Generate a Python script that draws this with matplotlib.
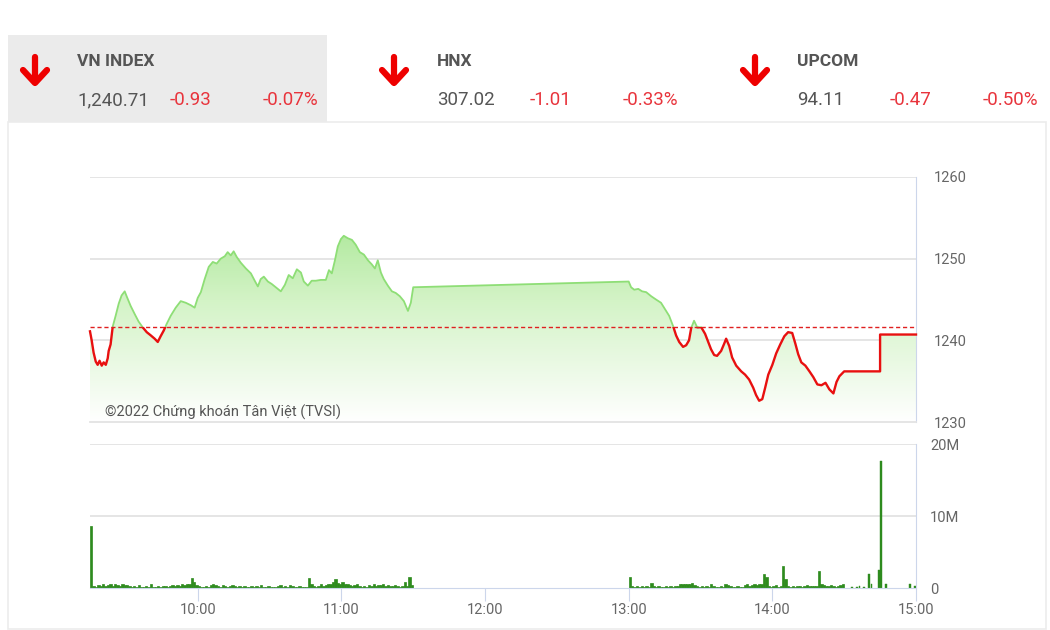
import numpy as np
import matplotlib.pyplot as plt
from matplotlib.patches import Rectangle, Polygon
from matplotlib.lines import Line2D
from matplotlib.colors import LinearSegmentedColormap

plt.rcParams['font.family'] = ['Roboto', 'DejaVu Sans']

# header values
idx_names = ['VN INDEX', 'HNX', 'UPCOM']
idx_values = ['1,240.71', '307.02', '94.11']
idx_change = ['-0.93', '-1.01', '-0.47']
idx_pct = ['-0.07%', '-0.33%', '-0.50%']

ref_price = 1241.64

# VN-Index intraday (minutes after 9:00)
price_t = [15, 15.7, 16.5, 17.4, 18.2, 19.0, 19.9, 20.7, 21.6, 22.4, 22.8, 23.6, 24.5, 25.7, 27.0,
           28.2, 29.5, 30.3, 32.0, 33.7, 35.3, 37.0, 38.7, 40.4, 42.0, 43.3, 44.5, 45.8, 47.0, 48.7,
           50.8, 52.9, 55.0, 57.1, 58.7, 60.0, 61.3, 62.9, 64.6, 66.3, 67.9, 69.6, 71.3, 72.5, 73.8,
           75.0, 76.3, 78.0, 80.1, 82.2, 83.8, 85.1, 86.3, 87.6, 89.3, 90.9, 92.6, 94.7, 96.4, 98.0,
           99.7, 101.4, 103.1, 104.3, 106.0, 107.6, 109.3, 111.4, 113.5, 114.8, 116.0, 117.3, 118.5,
           119.8, 121.0, 122.7, 124.4, 126.0, 127.7, 129.4, 131.1, 132.7, 134.0, 135.2, 136.5, 137.7,
           139.4, 141.1, 142.7, 144.4, 146.1, 147.8, 149.0, 150.0,
           240, 241, 242.3, 244, 245.6, 247.3, 249.4, 251.4, 253.5, 255.2, 256.9, 258.6, 259.8, 261.1,
           262.7, 264, 265.2, 266.1, 267.3, 268.6, 270.3, 271.9, 273.2, 274.4, 275.7, 276.9, 278.6,
           279.9, 280.7, 282.0, 283.2, 284.9, 287.0, 288.6, 290.3, 292.0, 293.2, 294.5, 295.8, 297.0,
           298.3, 300.0, 301.6, 303.3, 305.0, 306.6, 308.3, 309.6, 310.8, 312.1, 313.8, 315.5, 317.1,
           318.8, 320.5, 322.2, 323.8, 325.5, 326.8, 328.0, 330, 345, 345, 360]
price_v = [1241.1, 1240.0, 1238.5, 1237.4, 1237.0, 1237.5, 1236.9, 1237.3, 1237.0, 1237.8, 1238.7,
           1239.5, 1241.7, 1243.0, 1244.5, 1245.5, 1246.0, 1245.4, 1244.2, 1243.2, 1242.3, 1241.6,
           1241.0, 1240.6, 1240.2, 1239.8, 1240.5, 1241.2, 1242.0, 1243.0, 1244.0, 1244.8, 1244.6,
           1244.3, 1244.0, 1245.2, 1245.9, 1247.5, 1249.0, 1249.6, 1249.4, 1250.0, 1250.3, 1250.8,
           1250.4, 1250.9, 1250.2, 1249.5, 1248.8, 1248.2, 1247.3, 1246.6, 1247.5, 1247.8, 1247.2,
           1246.9, 1246.5, 1246.0, 1246.8, 1248.0, 1247.6, 1248.7, 1248.3, 1247.2, 1246.7, 1247.3,
           1247.3, 1247.4, 1247.4, 1248.6, 1248.2, 1249.8, 1251.5, 1252.4, 1252.8, 1252.5, 1252.3,
           1251.7, 1250.8, 1250.5, 1249.8, 1249.3, 1248.8, 1249.8, 1248.3, 1247.5, 1246.7, 1246.0,
           1245.8, 1245.4, 1244.8, 1243.6, 1244.6, 1246.5,
           1247.2, 1246.5, 1246.2, 1246.3, 1246.0, 1245.9, 1245.4, 1245.0, 1244.6, 1243.8, 1243.0,
           1241.7, 1240.6, 1239.8, 1239.2, 1239.4, 1240.0, 1241.5, 1242.4, 1241.6, 1241.6, 1240.8,
           1239.8, 1238.9, 1238.2, 1238.1, 1238.7, 1239.6, 1240.2, 1239.3, 1237.9, 1236.9, 1236.2,
           1235.8, 1235.2, 1234.2, 1233.3, 1232.6, 1232.8, 1234.2, 1235.8, 1237.0, 1238.4, 1239.5,
           1240.5, 1241.0, 1240.9, 1239.6, 1238.3, 1237.3, 1236.9, 1236.2, 1235.5, 1234.6, 1234.5,
           1234.8, 1234.0, 1233.5, 1234.9, 1235.6, 1236.2, 1236.2, 1240.71, 1240.71]

# volume per minute (millions), morning from 9:15, afternoon from 13:00
vol_am_start = 15
vol_am = [8.6, 0.3, 0.2, 0.4, 0.3, 0.5, 0.3, 0.4, 0.6, 0.3, 0.5, 0.4, 0.3, 0.5, 0.4,
          0.4, 0.3, 0.2, 0.3, 0.2, 0.4, 0.2, 0.2, 0.3, 0.2, 0.5, 0.2, 0.2, 0.3, 0.2,
          0.3, 0.3, 0.2, 0.3, 0.4, 0.3, 0.4, 0.3, 0.5, 0.4, 0.6, 0.5, 1.4, 0.8, 0.4,
          0.3, 0.2, 0.2, 0.3, 0.2, 0.4, 0.6, 0.4, 0.3, 0.2, 0.4, 0.3, 0.2, 0.3, 0.4,
          0.3, 0.2, 0.3, 0.2, 0.3, 0.2, 0.2, 0.3, 0.2, 0.3, 0.2, 0.4, 0.2, 0.2, 0.3,
          0.2, 0.2, 0.2, 0.3, 0.4, 0.2, 0.3, 0.2, 0.4, 0.3, 0.2, 0.2, 0.3, 0.2, 0.2,
          0.2, 1.4, 0.5, 0.3, 0.2, 0.3, 0.5, 0.3, 0.4, 0.6, 0.5, 0.8, 1.2, 0.7, 0.6,
          0.8, 0.6, 0.5, 0.4, 0.3, 0.4, 0.5, 0.3, 0.2, 0.3, 0.2, 0.4, 0.3, 0.5, 0.3,
          0.4, 0.4, 0.5, 0.3, 0.4, 0.3, 0.3, 0.4, 0.3, 0.2, 0.3, 0.9, 0.3, 1.5, 0.4]
vol_pm_start = 240
vol_pm = [1.5, 0.3, 0.2, 0.3, 0.2, 0.3, 0.2, 0.3, 0.2, 0.7, 0.3, 0.2, 0.3, 0.2, 0.2,
          0.3, 0.2, 0.3, 0.2, 0.3, 0.3, 0.5, 0.6, 0.5, 0.6, 0.5, 0.7, 0.4, 0.3, 0.2,
          0.3, 0.2, 0.3, 0.2, 0.5, 0.3, 0.2, 0.2, 0.3, 0.2, 0.5, 0.4, 0.3, 0.2, 0.2,
          0.3, 0.2, 0.2, 0.4, 0.5, 0.3, 0.4, 0.5, 0.4, 0.5, 0.6, 2.0, 1.5, 0.3, 0.2,
          0.3, 0.4, 0.2, 0.3, 3.0, 1.2, 0.3, 0.2, 0.3, 0.2, 0.3, 0.3, 0.2, 0.3, 0.4,
          0.3, 0.3, 0.3, 0.3, 2.3, 0.5, 0.4, 0.3, 0.3, 0.4, 0.3, 0.2, 0.3, 0.4, 0.5]
vol_late_t = [333, 335, 336, 338, 340, 341, 344, 345, 347, 357, 359]
vol_late = [0.2, 0.2, 0.3, 0.2, 2.0, 0.6, 2.5, 17.6, 0.6, 0.6, 0.3]

tick_pos = [60, 120, 180, 240, 300, 360]
tick_labels = ['10:00', '11:00', '12:00', '13:00', '14:00', '15:00']

W, H = 1050, 630
fig = plt.figure(figsize=(10.5, 6.3), dpi=100)


def fx(x):
    return x / W


def fy(y):
    return 1 - y / H


# header
fig.add_artist(Rectangle((fx(8), fy(122)), fx(319), 87 / H, transform=fig.transFigure,
                         facecolor='#ebebeb', edgecolor='none', zorder=0))
fig.add_artist(Rectangle((fx(8), fy(629)), fx(1038), 507 / H, transform=fig.transFigure,
                         facecolor='none', edgecolor='#ececec', lw=1.2, zorder=0))

arrow_x = [35, 394, 755]
text_x = [77, 437, 797]
for i in range(3):
    ax0 = arrow_x[i]
    fig.add_artist(Line2D([fx(ax0), fx(ax0)], [fy(57), fy(82)], transform=fig.transFigure,
                          color='#ee0000', lw=4.5, solid_capstyle='round'))
    fig.add_artist(Line2D([fx(ax0 - 12), fx(ax0), fx(ax0 + 12)], [fy(70), fy(83), fy(70)],
                          transform=fig.transFigure, color='#ee0000', lw=4.5,
                          solid_capstyle='round', solid_joinstyle='round'))
    x0 = text_x[i]
    fig.text(fx(x0), fy(61), idx_names[i], fontsize=12.5, fontweight='bold', color='#555555', va='center')
    fig.text(fx(x0), fy(100), idx_values[i], fontsize=13.5, color='#555555', va='center')
    fig.text(fx(x0 + 93), fy(100), idx_change[i], fontsize=13.5, color='#e8343c', va='center')
    fig.text(fx(x0 + 186), fy(100), idx_pct[i], fontsize=13.5, color='#e8343c', va='center')

grid_c = '#e3e3e3'
axis_c = '#ccd6eb'
lab_c = '#666666'

# price panel
ax = fig.add_axes([fx(90), fy(422), fx(826), (422 - 177) / H])
ax.set_xlim(15, 360)
ax.set_ylim(1230, 1260)
t = np.array(price_t)
p = np.array(price_v)

cmap = LinearSegmentedColormap.from_list('g', ['#ffffff', '#d3f3c6', '#98e281'])
grad = np.linspace(0, 1, 256).reshape(-1, 1)
im = ax.imshow(grad, extent=[15, 360, 1230, 1260], origin='lower', aspect='auto', cmap=cmap, zorder=1)
verts = list(zip(t, p)) + [(t[-1], 1230), (t[0], 1230)]
poly = Polygon(verts, closed=True, facecolor='none', edgecolor='none', transform=ax.transData)
ax.add_patch(poly)
im.set_clip_path(poly)

up_clip = Rectangle((0, ref_price), 400, 100, transform=ax.transData, facecolor='none')
dn_clip = Rectangle((0, 1200), 400, ref_price - 1200, transform=ax.transData, facecolor='none')
ln_up, = ax.plot(t, p, color='#8ede76', lw=1.3, zorder=4)
ln_up.set_clip_path(up_clip)
ln_dn, = ax.plot(t, p, color='#e81010', lw=1.7, zorder=4)
ln_dn.set_clip_path(dn_clip)

ax.axhline(ref_price, color='#e02020', lw=1, dashes=(3, 2), zorder=5)
for yv in [1240, 1250, 1260]:
    ax.axhline(yv, color=grid_c, lw=1.3, zorder=0)
ax.set_yticks([1230, 1240, 1250, 1260])
ax.yaxis.tick_right()
ax.tick_params(axis='y', length=0, pad=13, labelsize=10.5, labelcolor=lab_c)
ax.set_xticks([])
for s in ['top', 'left']:
    ax.spines[s].set_visible(False)
ax.spines['right'].set_color(axis_c)
ax.spines['bottom'].set_color(grid_c)
ax.spines['bottom'].set_linewidth(1.3)
ax.text(0.018, 0.04, '©2022 Chứng khoán Tân Việt (TVSI)', transform=ax.transAxes,
        fontsize=10.5, color='#555555', va='center', zorder=6)

# volume panel
axv = fig.add_axes([fx(90), fy(588), fx(826), (588 - 444) / H])
axv.set_xlim(15, 360)
axv.set_ylim(0, 20)
am_t = vol_am_start + np.arange(len(vol_am))
pm_t = vol_pm_start + np.arange(len(vol_pm))
bar_c = '#2e8b1e'
axv.bar(am_t, vol_am, width=1, align='edge', color=bar_c, edgecolor=bar_c, lw=0.5)
axv.bar(pm_t, vol_pm, width=1, align='edge', color=bar_c, edgecolor=bar_c, lw=0.5)
axv.bar(vol_late_t, vol_late, width=0.8, align='edge', color=bar_c, edgecolor=bar_c, lw=0.3)
for yv in [10, 20]:
    axv.axhline(yv, color=grid_c, lw=1.3, zorder=0)
axv.set_yticks([0, 10, 20])
axv.set_yticklabels(['0', '10M', '20M'])
axv.yaxis.tick_right()
axv.tick_params(axis='y', length=0, pad=10, labelsize=10.5, labelcolor=lab_c)
axv.set_xticks(tick_pos)
axv.set_xticklabels(tick_labels)
axv.tick_params(axis='x', length=9, color=axis_c, labelsize=10.5, labelcolor=lab_c, pad=2)
for s in ['top', 'left']:
    axv.spines[s].set_visible(False)
axv.spines['right'].set_color(axis_c)
axv.spines['bottom'].set_color(axis_c)

fig.savefig('out.png', dpi=100)
